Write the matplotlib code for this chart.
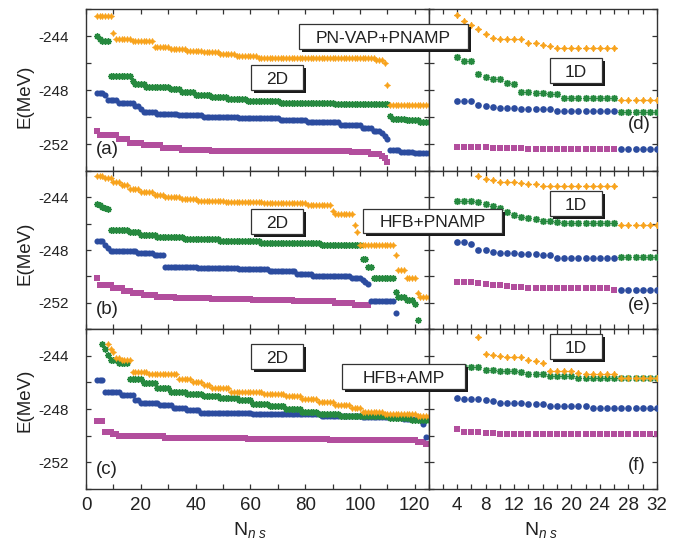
import numpy as np
import matplotlib
matplotlib.use("Agg")
import matplotlib.pyplot as plt
from matplotlib.patches import Rectangle
from matplotlib.ticker import MultipleLocator, FixedLocator

plt.rcParams['font.family'] = ['Liberation Sans', 'DejaVu Sans']
plt.rcParams['axes.unicode_minus'] = False
plt.rcParams['mathtext.fontset'] = 'custom'
plt.rcParams['mathtext.rm'] = 'Liberation Sans'
plt.rcParams['mathtext.it'] = 'Liberation Sans:italic'

# ---------------------------------------------------------------------------
# 2D scans: energies (MeV) stored as runs of equal values; *_n are run lengths,
# the first run starts at N_ns = *_x0.
# ---------------------------------------------------------------------------
# (a) PN-VAP+PNAMP
a_orange_x0 = 4
a_orange_E = [-242.5, -243.8, -244.2, -244.4, -244.85, -244.95, -245.1, -245.2, -245.35,
              -245.5, -245.6, -245.65, -245.75, -246.0, -247.6, -249.1]
a_orange_n = [6, 1, 6, 8, 6, 6, 6, 6, 6, 8, 28, 15, 3, 1, 1, 15]
a_green_x0 = 4
a_green_E = [-244.0, -244.2, -244.35, -246.95, -247.3, -247.55, -247.75, -247.95, -248.15,
             -248.35, -248.55, -248.7, -248.85, -248.95, -249.05, -249.95, -250.15, -250.25, -250.4]
a_green_n = [1, 1, 3, 8, 1, 4, 9, 4, 5, 6, 6, 7, 12, 20, 20, 1, 5, 5, 4]
a_blue_x0 = 4
a_blue_E = [-248.2, -248.35, -248.75, -248.95, -249.15, -249.4, -249.6, -249.75, -249.88, -250.0,
            -250.1, -250.25, -250.4, -250.6, -250.8, -251.0, -251.2, -251.4, -251.65, -252.45,
            -252.6, -252.7]
a_blue_n = [3, 1, 4, 6, 2, 1, 5, 8, 9, 13, 15, 10, 12, 8, 4, 3, 1, 1, 1, 4, 5, 6]
a_mag_x0 = 4
a_mag_E = [-251.0, -251.35, -251.65, -251.9, -252.1, -252.3, -252.42, -252.5, -252.6, -252.75,
           -252.9, -253.05, -253.35]
a_mag_n = [1, 7, 4, 5, 7, 7, 11, 51, 7, 4, 1, 1, 1]

# (b) HFB+PNAMP
b_orange_x0 = 4
b_orange_E = [-242.4, -242.55, -242.8, -243.1, -243.35, -243.6, -243.8, -244.0, -244.12, -244.25,
              -244.38, -244.45, -244.55, -245.0, -245.3, -246.1, -246.6, -247.6, -248.4, -249.5,
              -250.15, -251.3, -251.6]
b_orange_n = [3, 3, 3, 3, 4, 5, 4, 6, 6, 10, 14, 16, 9, 1, 7, 1, 1, 13, 1, 3, 4, 1, 4]
b_green_x0 = 4
b_green_E = [-244.5, -244.6, -244.7, -244.8, -244.9, -246.45, -246.65, -246.85, -247.0, -247.15,
             -247.3, -247.45, -247.6, -248.7, -249.3, -250.1, -251.2, -251.55, -251.8, -252.1, -253.3]
b_green_n = [1, 1, 1, 1, 1, 7, 4, 6, 10, 13, 15, 22, 15, 2, 2, 8, 1, 3, 3, 1, 1]
b_blue_x0 = 4
b_blue_E = [-247.35, -247.6, -247.85, -248.05, -248.2, -248.4, -249.3, -249.38, -249.48, -249.6,
            -249.8, -249.95, -250.1, -250.3, -250.45, -250.55, -251.85, -252.8]
b_blue_n = [3, 1, 1, 10, 6, 4, 12, 15, 11, 10, 6, 14, 4, 1, 1, 1, 9, 1]
b_mag_x0 = 4
b_mag_E = [-250.15, -250.65, -250.85, -251.1, -251.25, -251.42, -251.6, -251.68, -251.75, -251.8,
           -251.9, -252.0, -252.15]
b_mag_n = [1, 5, 4, 3, 4, 5, 7, 13, 15, 15, 15, 7, 6]

# (c) HFB+AMP
c_orange_x0 = 8
c_orange_E = [-243.1, -243.5, -243.75, -244.15, -244.3, -245.25, -245.4, -245.75, -245.95, -246.2,
              -246.45, -246.7, -246.85, -247.0, -247.25, -247.45, -247.7, -247.95, -248.2, -248.4, -248.55]
c_orange_n = [1, 1, 1, 2, 4, 6, 11, 5, 4, 3, 7, 12, 8, 6, 6, 6, 6, 4, 8, 12, 5]
c_green_x0 = 6
c_green_E = [-243.1, -243.5, -243.95, -244.35, -244.55, -245.75, -246.05, -246.4, -246.7, -246.85,
             -247.05, -247.2, -247.35, -247.6, -247.8, -248.0, -248.2, -248.4, -248.55, -248.65, -248.8]
c_green_n = [1, 1, 1, 3, 4, 5, 5, 5, 6, 6, 6, 7, 5, 6, 6, 6, 6, 8, 18, 8, 7]
c_blue_x0 = 4
c_blue_E = [-245.8, -246.75, -246.95, -247.3, -247.55, -247.7, -247.9, -248.05, -248.3, -248.4,
            -248.5, -248.6, -248.75, -249.1, -250.1]
c_blue_n = [3, 6, 5, 2, 7, 5, 5, 5, 19, 25, 15, 15, 7, 1, 1]
c_mag_x0 = 4
c_mag_E = [-248.9, -249.7, -249.9, -250.05, -250.15, -250.25, -250.35, -250.45, -250.65]
c_mag_n = [3, 3, 2, 17, 30, 30, 32, 3, 2]

# ---------------------------------------------------------------------------
# 1D scans: one energy per N_ns
# ---------------------------------------------------------------------------
# (d) PN-VAP+PNAMP
d_orange_x = list(range(4, 33))
d_orange_E = ([-242.48, -242.86, -243.2, -243.5, -243.87, -244.13, -244.2, -244.2, -244.2, -244.2,
               -244.5, -244.5, -244.7, -244.76] + [-244.88] * 9 + [-248.72] * 6)
d_green_x = list(range(4, 33))
d_green_E = ([-245.57, -245.82, -245.82, -246.83, -247.03, -247.15, -247.2, -247.45, -247.58,
              -248.12, -248.17, -248.22, -248.25, -248.3, -248.3] + [-248.6] * 8 + [-249.63] * 6)
d_blue_x = list(range(4, 33))
d_blue_E = ([-248.85] * 3 + [-249.1, -249.15, -249.25] + [-249.3] * 3 + [-249.43] * 5
            + [-249.56] * 9 + [-252.4] * 6)
d_mag_x = list(range(4, 27))
d_mag_E = [-252.2] * 5 + [-252.33] * 5 + [-252.4] * 13

# (e) HFB+PNAMP
e_orange_x = list(range(7, 33))
e_orange_E = ([-242.36, -242.62, -242.7, -242.82, -242.82, -242.87, -242.94, -243.0, -243.0, -243.12]
              + [-243.15] * 10 + [-246.1] * 6)
e_green_x = list(range(4, 33))
e_green_E = ([-244.25, -244.25, -244.3, -244.33, -244.5, -244.63, -244.8, -245.13, -245.33, -245.5,
              -245.56, -245.63, -245.76, -245.8, -245.85] + [-245.95] * 8 + [-248.53] * 6)
e_blue_x = list(range(4, 33))
e_blue_E = ([-247.4, -247.4, -247.52, -248.03, -248.03, -248.15, -248.23, -248.23, -248.23,
             -248.28, -248.28, -248.28, -248.4, -248.4] + [-248.58] * 9 + [-251.0] * 6)
e_mag_x = list(range(4, 27))
e_mag_E = ([-250.41, -250.41, -250.46, -250.54, -250.62, -250.67, -250.67, -250.72, -250.79, -250.79]
           + [-250.87] * 5 + [-250.92] * 7 + [-251.0])

# (f) HFB+AMP
f_orange_x = list(range(7, 33))
f_orange_E = ([-242.57, -243.87, -243.92, -244.05, -244.1, -244.13, -244.13, -244.3, -244.38, -244.55,
               -245.13, -245.18, -245.18, -245.18, -245.3] + [-245.38] * 5 + [-245.64] * 6)
f_green_x = list(range(4, 33))
f_green_E = ([-244.85, -244.85, -244.85, -244.88, -245.06, -245.06, -245.13, -245.13, -245.13, -245.2]
             + [-245.38] * 3 + [-245.5] * 4 + [-245.64] * 6 + [-245.7] * 6)
f_blue_x = list(range(4, 33))
f_blue_E = ([-247.19, -247.22, -247.22, -247.22, -247.34, -247.4] + [-247.52] * 4 + [-247.65] * 3
            + [-247.77] * 6 + [-247.9] * 10)
f_mag_x = list(range(4, 33))
f_mag_E = [-249.53, -249.71, -249.71, -249.71, -249.79, -249.79] + [-249.86] * 23

x_ticks_2d = [0, 20, 40, 60, 80, 100, 120]
x_ticks_1d = [4, 8, 12, 16, 20, 24, 28, 32]
y_ticks = [-244, -248, -252]
panel_titles = ['PN-VAP+PNAMP', 'HFB+PNAMP', 'HFB+AMP']

# ---------------------------------------------------------------------------
W, H = 691, 539
fig = plt.figure(figsize=(W / 100, H / 100), dpi=100)

ORANGE = '#F8A31C'
GREEN = '#26893F'
GREEN_LIGHT = '#86C993'
BLUE = '#2C4C9F'
MAGENTA = '#B24E9D'
FRAME = '#333333'
INK = '#222222'


def runs(x0, E, n):
    y = np.repeat(np.asarray(E, float), n)
    return np.arange(x0, x0 + len(y)), y


def axes_px(x0, x1, y0, y1):
    return fig.add_axes([x0 / W, 1 - y1 / H, (x1 - x0) / W, (y1 - y0) / H])


def draw(ax, x, y, kind, scale=1.0):
    if kind == 'orange':
        ax.plot(x, y, ls='none', marker=(4, 1, 0), ms=4.3 * scale, color=ORANGE,
                mec=ORANGE, mew=0.6, zorder=5)
    elif kind == 'green':
        ax.plot(x, y, ls='none', marker='o', ms=4.0 * scale, color=GREEN_LIGHT, mew=0, zorder=4)
        ax.plot(x, y, ls='none', marker=(8, 2, 0), ms=4.6 * scale, color=GREEN,
                mec=GREEN, mew=1.0, zorder=4)
    elif kind == 'blue':
        ax.plot(x, y, ls='none', marker='o', ms=4.4 * scale, color=BLUE, mew=0, zorder=3)
    else:
        ax.plot(x, y, ls='none', marker='s', ms=4.3 * scale, color=MAGENTA, mew=0, zorder=2)


rows = [(9, 171), (171, 329), (329, 489)]
XL, XM, XR = 86, 428.5, 657

two_d = [
    [(a_mag_x0, a_mag_E, a_mag_n, 'mag'), (a_blue_x0, a_blue_E, a_blue_n, 'blue'),
     (a_green_x0, a_green_E, a_green_n, 'green'), (a_orange_x0, a_orange_E, a_orange_n, 'orange')],
    [(b_mag_x0, b_mag_E, b_mag_n, 'mag'), (b_blue_x0, b_blue_E, b_blue_n, 'blue'),
     (b_green_x0, b_green_E, b_green_n, 'green'), (b_orange_x0, b_orange_E, b_orange_n, 'orange')],
    [(c_mag_x0, c_mag_E, c_mag_n, 'mag'), (c_blue_x0, c_blue_E, c_blue_n, 'blue'),
     (c_green_x0, c_green_E, c_green_n, 'green'), (c_orange_x0, c_orange_E, c_orange_n, 'orange')],
]
one_d = [
    [(d_mag_x, d_mag_E, 'mag'), (d_blue_x, d_blue_E, 'blue'),
     (d_green_x, d_green_E, 'green'), (d_orange_x, d_orange_E, 'orange')],
    [(e_mag_x, e_mag_E, 'mag'), (e_blue_x, e_blue_E, 'blue'),
     (e_green_x, e_green_E, 'green'), (e_orange_x, e_orange_E, 'orange')],
    [(f_mag_x, f_mag_E, 'mag'), (f_blue_x, f_blue_E, 'blue'),
     (f_green_x, f_green_E, 'green'), (f_orange_x, f_orange_E, 'orange')],
]


def style(ax):
    ax.set_ylim(-254, -242)
    ax.yaxis.set_major_locator(FixedLocator(y_ticks))
    ax.yaxis.set_minor_locator(FixedLocator([-242, -246, -250, -254]))
    ax.tick_params(which='both', direction='in', top=True, right=True,
                   color=FRAME, width=0.9, length=3.8, labelcolor=INK)
    ax.tick_params(axis='y', labelsize=11, pad=12)
    ax.tick_params(axis='x', labelsize=13.5, pad=6)
    for s in ax.spines.values():
        s.set_color(FRAME)
        s.set_linewidth(1.0)


for r, (y0, y1) in enumerate(rows):
    axL = axes_px(XL, XM, y0, y1)
    axR = axes_px(XM, XR, y0, y1)
    for x0, E, n, kind in two_d[r]:
        x, y = runs(x0, E, n)
        draw(axL, x, y, kind)
    for x, E, kind in one_d[r]:
        draw(axR, x, E, kind, scale=1.1)
    style(axL)
    style(axR)
    axL.set_xlim(0, 125)
    axL.xaxis.set_major_locator(FixedLocator(x_ticks_2d))
    axL.xaxis.set_minor_locator(MultipleLocator(10))
    axR.set_xlim(0, 32)
    axR.xaxis.set_major_locator(FixedLocator(x_ticks_1d))
    axR.xaxis.set_minor_locator(MultipleLocator(2))
    axR.tick_params(labelleft=False)
    if r < 2:
        axL.tick_params(labelbottom=False)
        axR.tick_params(labelbottom=False)


def fx(px):
    return px / W


def fy(py):
    return 1 - py / H


def label_box(x0, y0, x1, y1, text):
    w, h = (x1 - x0) / W, (y1 - y0) / H
    fig.add_artist(Rectangle((fx(x0 + 2.6), fy(y1 + 2.6)), w, h, transform=fig.transFigure,
                             facecolor='#1a1a1a', edgecolor='none', zorder=10))
    fig.add_artist(Rectangle((fx(x0), fy(y1)), w, h, transform=fig.transFigure,
                             facecolor='white', edgecolor=FRAME, lw=0.9, zorder=11))
    fig.text(fx((x0 + x1) / 2), fy((y0 + y1) / 2 + 6.2), text, ha='center', va='baseline',
             fontsize=12.5, color=INK, zorder=12)


label_box(299, 24, 468, 49, panel_titles[0])
label_box(363, 209, 502, 233, panel_titles[1])
label_box(342, 364, 465, 389, panel_titles[2])
for (bx, by) in [(251, 65), (251, 209), (251, 344)]:
    label_box(bx, by, bx + 52, by + 25, '2D')
for (bx, by) in [(550, 58), (550, 191), (550, 334)]:
    label_box(bx, by, bx + 52, by + 25, '1D')

for txt, px, py in [('(a)', 107, 150), ('(b)', 107, 310), ('(c)', 107, 470),
                    ('(d)', 639, 125), ('(e)', 639, 306), ('(f)', 637, 465)]:
    fig.text(fx(px), fy(py), txt, ha='center', va='center', fontsize=13.5, color=INK, zorder=12)

for py in [96, 253, 400]:
    fig.text(fx(25), fy(py), 'E(MeV)', rotation=90, ha='center', va='center', fontsize=13.5,
             color=INK)

for px in [250, 541]:
    fig.text(fx(px), fy(535), r'N$_{n\ s}$', ha='center', va='baseline', fontsize=14,
             color=INK)

fig.savefig('out.png', dpi=100)
